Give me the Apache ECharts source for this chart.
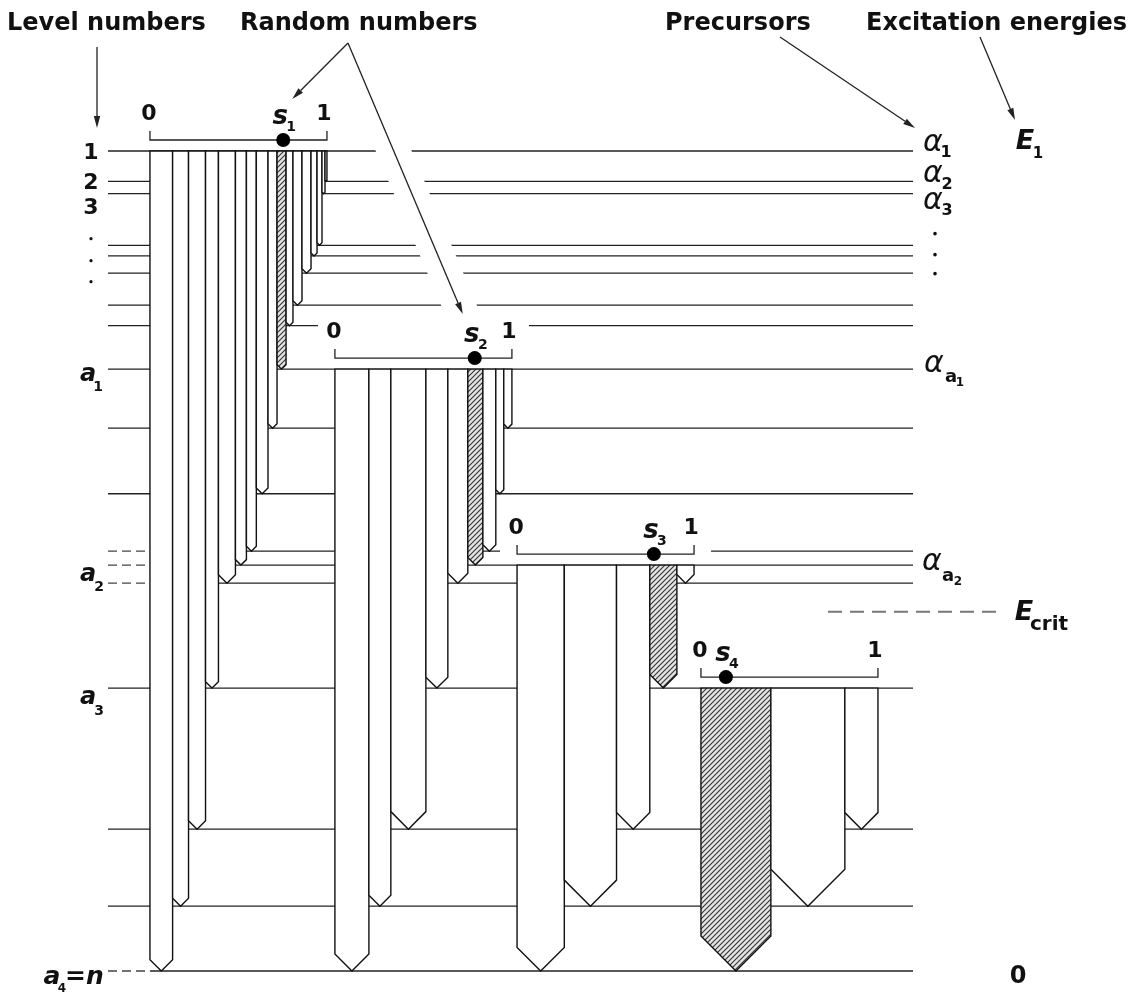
<!DOCTYPE html>
<html><head><meta charset="utf-8">
<script src="https://cdn.jsdelivr.net/npm/echarts@6/dist/echarts.min.js"></script>
<style>html,body{margin:0;padding:0;background:#fff}#c{width:1143px;height:996px}</style>
</head><body><div id="c"></div>
<script>
// ---------------- DATA ----------------
// Level energies (arbitrary units, level 1 = 100, ground level a4 = n = 0)
const LEVEL_E = [100, 96.3, 94.8, 88.5, 87.2, 85.1, 81.2, 78.7, 73.4, 66.2, 58.2, 51.2, 49.5, 47.3, 34.5, 17.3, 7.9, 0];
const E_CRIT = 43.8;
// Precursor (origin) level of each cascade step, 1-based level numbers
const STEP_ORIGIN = [1, 9, 13, 15];
// Branching of each step: target levels (1-based) and branching ratios
const STEP1_TARGETS = [18, 17, 16, 15, 14, 13, 12, 11, 10, 9, 8, 7, 6, 5, 4, 3, 2];
const STEP1_RATIOS  = [0.128, 0.090, 0.096, 0.073, 0.096, 0.062, 0.056, 0.066, 0.051, 0.051, 0.039, 0.051, 0.051, 0.034, 0.028, 0.017, 0.011];
const STEP2_TARGETS = [18, 17, 16, 15, 14, 13, 12, 11, 10];
const STEP2_RATIOS  = [0.192, 0.124, 0.198, 0.124, 0.113, 0.085, 0.073, 0.045, 0.046];
const STEP3_TARGETS = [18, 17, 16, 15, 14];
const STEP3_RATIOS  = [0.267, 0.295, 0.188, 0.153, 0.097];
const STEP4_TARGETS = [18, 17, 16];
const STEP4_RATIOS  = [0.395, 0.418, 0.187];
// Random numbers drawn at each step
const RANDOM_S = [0.753, 0.790, 0.773, 0.141];

// ---------------- LAYOUT ----------------
const X_MAX = 4.548;                       // one random-number interval [0,1] = 1 axis unit
const STEP_X = [0.237, 1.282, 2.311, 3.350]; // horizontal offset of each step's interval
const DASHED_TICKS = [11, 12, 13, 17];     // level indices with dashed left tick
const FONT = '"DejaVu Sans"';
const INK = '#111';

// hatch pattern
function makeHatch() {
  const c = document.createElement('canvas'); c.width = 5; c.height = 5;
  const g = c.getContext('2d');
  g.fillStyle = '#e4e4e4'; g.fillRect(0, 0, 5, 5);
  g.strokeStyle = '#333'; g.lineWidth = 1.1; g.beginPath();
  g.moveTo(0, 5); g.lineTo(5, 0); g.moveTo(-1, 1); g.lineTo(1, -1); g.moveTo(4, 6); g.lineTo(6, 4);
  g.stroke(); return c;
}
const HATCH = { image: makeHatch(), repeat: 'repeat' };

// build transition data
const STEPS = [[STEP1_TARGETS, STEP1_RATIOS], [STEP2_TARGETS, STEP2_RATIOS], [STEP3_TARGETS, STEP3_RATIOS], [STEP4_TARGETS, STEP4_RATIOS]];
const arrowData = [];
STEPS.forEach(function (st, k) {
  let cum = 0;
  st[0].forEach(function (t, i) {
    const x0 = STEP_X[k] + cum, x1 = x0 + st[1][i];
    const chosen = (RANDOM_S[k] >= cum && RANDOM_S[k] < cum + st[1][i]) ? 1 : 0;
    arrowData.push([x0, x1, LEVEL_E[STEP_ORIGIN[k] - 1], LEVEL_E[t - 1], chosen]);
    cum += st[1][i];
  });
});
const levelData = LEVEL_E.map(function (e, i) { return [0, e, i]; });
const bracketData = STEP_ORIGIN.map(function (o, k) { return [STEP_X[k], LEVEL_E[o - 1], RANDOM_S[k], k]; });

function txt(s, x, y, font, align) {
  align = align || 'center';
  return { type: 'text', silent: true, style: { text: s, x: x, y: y, font: font, fill: INK,
    textAlign: align, textVerticalAlign: 'middle', align: align, verticalAlign: 'middle' } };
}
function pointer(x1, y1, x2, y2) {
  const dx = x2 - x1, dy = y2 - y1, l = Math.hypot(dx, dy), ux = dx / l, uy = dy / l;
  const hl = 12, hw = 3.2, bx = x2 - ux * hl, by = y2 - uy * hl;
  return [
    { type: 'line', shape: { x1: x1, y1: y1, x2: bx, y2: by }, style: { stroke: '#222', lineWidth: 1.3 } },
    { type: 'polygon', shape: { points: [[x2, y2], [bx - uy * hw, by + ux * hw], [bx + uy * hw, by - ux * hw]] }, style: { fill: '#222' } }
  ];
}

const chart = echarts.init(document.getElementById('c'), null, { renderer: 'canvas' });
chart.setOption({
  animation: false,
  backgroundColor: '#fff',
  grid: { left: 108, right: 230, top: 151, bottom: 25 },
  xAxis: { type: 'value', min: 0, max: X_MAX, show: false },
  yAxis: { type: 'value', min: 0, max: 100, show: false },
  series: [
    { // level lines
      type: 'custom', z: 1, clip: false, silent: true, data: levelData,
      renderItem: function (params, api) {
        const e = api.value(1), i = api.value(2);
        const p0 = api.coord([0, e]), p1 = api.coord([X_MAX, e]), ps = api.coord([STEP_X[0], e]);
        const st = { stroke: '#222', lineWidth: 1.3 };
        if (DASHED_TICKS.indexOf(i) >= 0) {
          return { type: 'group', children: [
            { type: 'line', shape: { x1: p0[0], y1: p0[1], x2: ps[0], y2: p0[1] }, style: { stroke: '#444', lineWidth: 1.3, lineDash: [9, 5] } },
            { type: 'line', shape: { x1: ps[0], y1: p0[1], x2: p1[0], y2: p1[1] }, style: st }
          ] };
        }
        return { type: 'line', shape: { x1: p0[0], y1: p0[1], x2: p1[0], y2: p1[1] }, style: st };
      }
    },
    { // transitions (arrows)
      type: 'custom', z: 2, clip: false, silent: true, data: arrowData,
      renderItem: function (params, api) {
        const a = api.coord([api.value(0), api.value(2)]), b = api.coord([api.value(1), api.value(3)]);
        const L = a[0], R = b[0], T = a[1], B = b[1];
        let h = (R - L) / 2; if (h > B - T) h = B - T;
        const m = (L + R) / 2;
        return { type: 'polygon', shape: { points: [[L, T], [R, T], [R, B - h], [m, B], [L, B - h]] },
          style: { fill: api.value(4) ? HATCH : '#fff', stroke: INK, lineWidth: 1.4 } };
      }
    },
    { // random-number intervals
      type: 'custom', z: 3, clip: false, silent: true, data: bracketData,
      renderItem: function (params, api) {
        const xl = api.value(0), e = api.value(1), s = api.value(2), k = api.value(3);
        const p0 = api.coord([xl, e]), p1 = api.coord([xl + 1, e]), ps = api.coord([xl + s, e]);
        const y = p0[1], by = y - 11, L = p0[0], R = p1[0];
        return { type: 'group', children: [
          { type: 'rect', shape: { x: L - 17, y: y - 50, width: R - L + 34, height: 42 }, style: { fill: '#fff' } },
          { type: 'polyline', shape: { points: [[L, by - 9], [L, by], [R, by], [R, by - 9]] }, style: { stroke: '#222', lineWidth: 1.3, fill: null } },
          { type: 'circle', shape: { cx: ps[0], cy: by, r: 7 }, style: { fill: '#000' } },
          txt('0', L - 1, y - 37, 'bold 22px ' + FONT),
          txt('1', R - 3, y - 37, 'bold 22px ' + FONT),
          txt('s', ps[0] - 3, y - 34, 'italic bold 26px ' + FONT),
          txt(String(k + 1), ps[0] + 8, y - 24, 'bold 14px ' + FONT)
        ] };
      }
    },
    { // labels & annotations
      type: 'custom', z: 4, clip: false, silent: true, data: [[0, 0]],
      renderItem: function (params, api) {
        const Y = function (i) { return api.coord([0, LEVEL_E[i]])[1]; };
        const xl = api.coord([0, 0])[0], xr = api.coord([X_MAX, 0])[0];
        const yc = api.coord([0, E_CRIT])[1];
        const dot = function (k) { const p = api.coord([STEP_X[k] + RANDOM_S[k], LEVEL_E[STEP_ORIGIN[k] - 1]]); return [p[0], p[1] - 11]; };
        const c = [];
        const H = 'bold 24px ' + FONT;
        // headers
        c.push(txt('Level numbers', 7, 23.5, H, 'left'));
        c.push(txt('Random numbers', 240, 23.5, H, 'left'));
        c.push(txt('Precursors', 665, 23.5, H, 'left'));
        c.push(txt('Excitation energies', 866, 23.5, H, 'left'));
        // pointers
        const d1 = dot(0), d2 = dot(1);
        const apex = [348, 43], tip2 = [d2[0] - 12, d2[1] - 44];
        const t = (140 - apex[1]) / (tip2[1] - apex[1]);
        c.push({ type: 'line', shape: { x1: apex[0] + (tip2[0] - apex[0]) * t, y1: 140, x2: tip2[0], y2: tip2[1] }, style: { stroke: '#fff', lineWidth: 33 } });
        Array.prototype.push.apply(c, pointer(xl - 11, 47, xl - 11, 128));
        Array.prototype.push.apply(c, pointer(apex[0], apex[1], d1[0] + 9, d1[1] - 41));
        Array.prototype.push.apply(c, pointer(apex[0], apex[1], tip2[0], tip2[1]));
        Array.prototype.push.apply(c, pointer(780, 37, xr + 2, Y(0) - 23));
        Array.prototype.push.apply(c, pointer(980, 37, xr + 102, Y(0) - 31));
        // left level numbers
        const N = 'bold 22px ' + FONT, A = 'italic bold 24px ' + FONT, S = 'bold 14px ' + FONT;
        c.push(txt('1', xl - 17, Y(0) + 2, N));
        c.push(txt('2', xl - 17, Y(1) + 2, N));
        c.push(txt('3', xl - 17, Y(2) + 15, N));
        [45, 67, 88].forEach(function (o) { c.push({ type: 'circle', shape: { cx: xl - 17, cy: Y(2) + o, r: 1.6 }, style: { fill: INK } }); });
        c.push(txt('a', xl - 20, Y(8) + 6, A)); c.push(txt('1', xl - 10, Y(8) + 18, S));
        c.push(txt('a', xl - 20, Y(12) + 10, A)); c.push(txt('2', xl - 9, Y(12) + 22, S));
        c.push(txt('a', xl - 20, Y(14) + 10, A)); c.push(txt('3', xl - 9, Y(14) + 23, S));
        c.push(txt('a', xl - 56, Y(17) + 6, 'italic bold 25px ' + FONT));
        c.push(txt('4', xl - 46, Y(17) + 18, 'bold 12px ' + FONT));
        c.push(txt('=n', xl - 43, Y(17) + 6, 'italic bold 25px ' + FONT, 'left'));
        // right precursor labels
        const AL = 'italic 30px ' + FONT, SB = 'bold 16px ' + FONT;
        c.push(txt('\u03b1', xr + 20, Y(0) - 8, AL)); c.push(txt('1', xr + 33, Y(0) + 2, SB));
        c.push(txt('\u03b1', xr + 20, Y(1) - 7, AL)); c.push(txt('2', xr + 34, Y(1) + 4, SB));
        c.push(txt('\u03b1', xr + 20, Y(2) + 8, AL)); c.push(txt('3', xr + 34, Y(2) + 17, SB));
        [40, 61, 80].forEach(function (o) { c.push({ type: 'circle', shape: { cx: xr + 22, cy: Y(2) + o, r: 1.8 }, style: { fill: INK } }); });
        c.push(txt('\u03b1', xr + 21, Y(8) - 5, AL));
        c.push(txt('a', xr + 38, Y(8) + 8, 'bold 18px ' + FONT)); c.push(txt('1', xr + 47, Y(8) + 14, 'bold 12px ' + FONT));
        c.push(txt('\u03b1', xr + 19, Y(12) - 3, AL));
        c.push(txt('a', xr + 35, Y(12) + 11, 'bold 18px ' + FONT)); c.push(txt('2', xr + 45, Y(12) + 17, 'bold 12px ' + FONT));
        // excitation energies
        const EF = 'italic bold 27px ' + FONT;
        c.push(txt('E', xr + 112, Y(0) - 9, EF)); c.push(txt('1', xr + 125, Y(0) + 3, 'bold 15px ' + FONT));
        c.push({ type: 'line', shape: { x1: xr - 85, y1: yc, x2: xr + 90, y2: yc }, style: { stroke: '#777', lineWidth: 2, lineDash: [14, 8] } });
        c.push(txt('E', xr + 111, yc + 1, EF)); c.push(txt('crit', xr + 117, yc + 13, 'bold 20px ' + FONT, 'left'));
        c.push(txt('0', xr + 105, Y(17) + 6, 'bold 24px ' + FONT));
        return { type: 'group', children: c };
      }
    }
  ]
});
</script>
</body></html>
